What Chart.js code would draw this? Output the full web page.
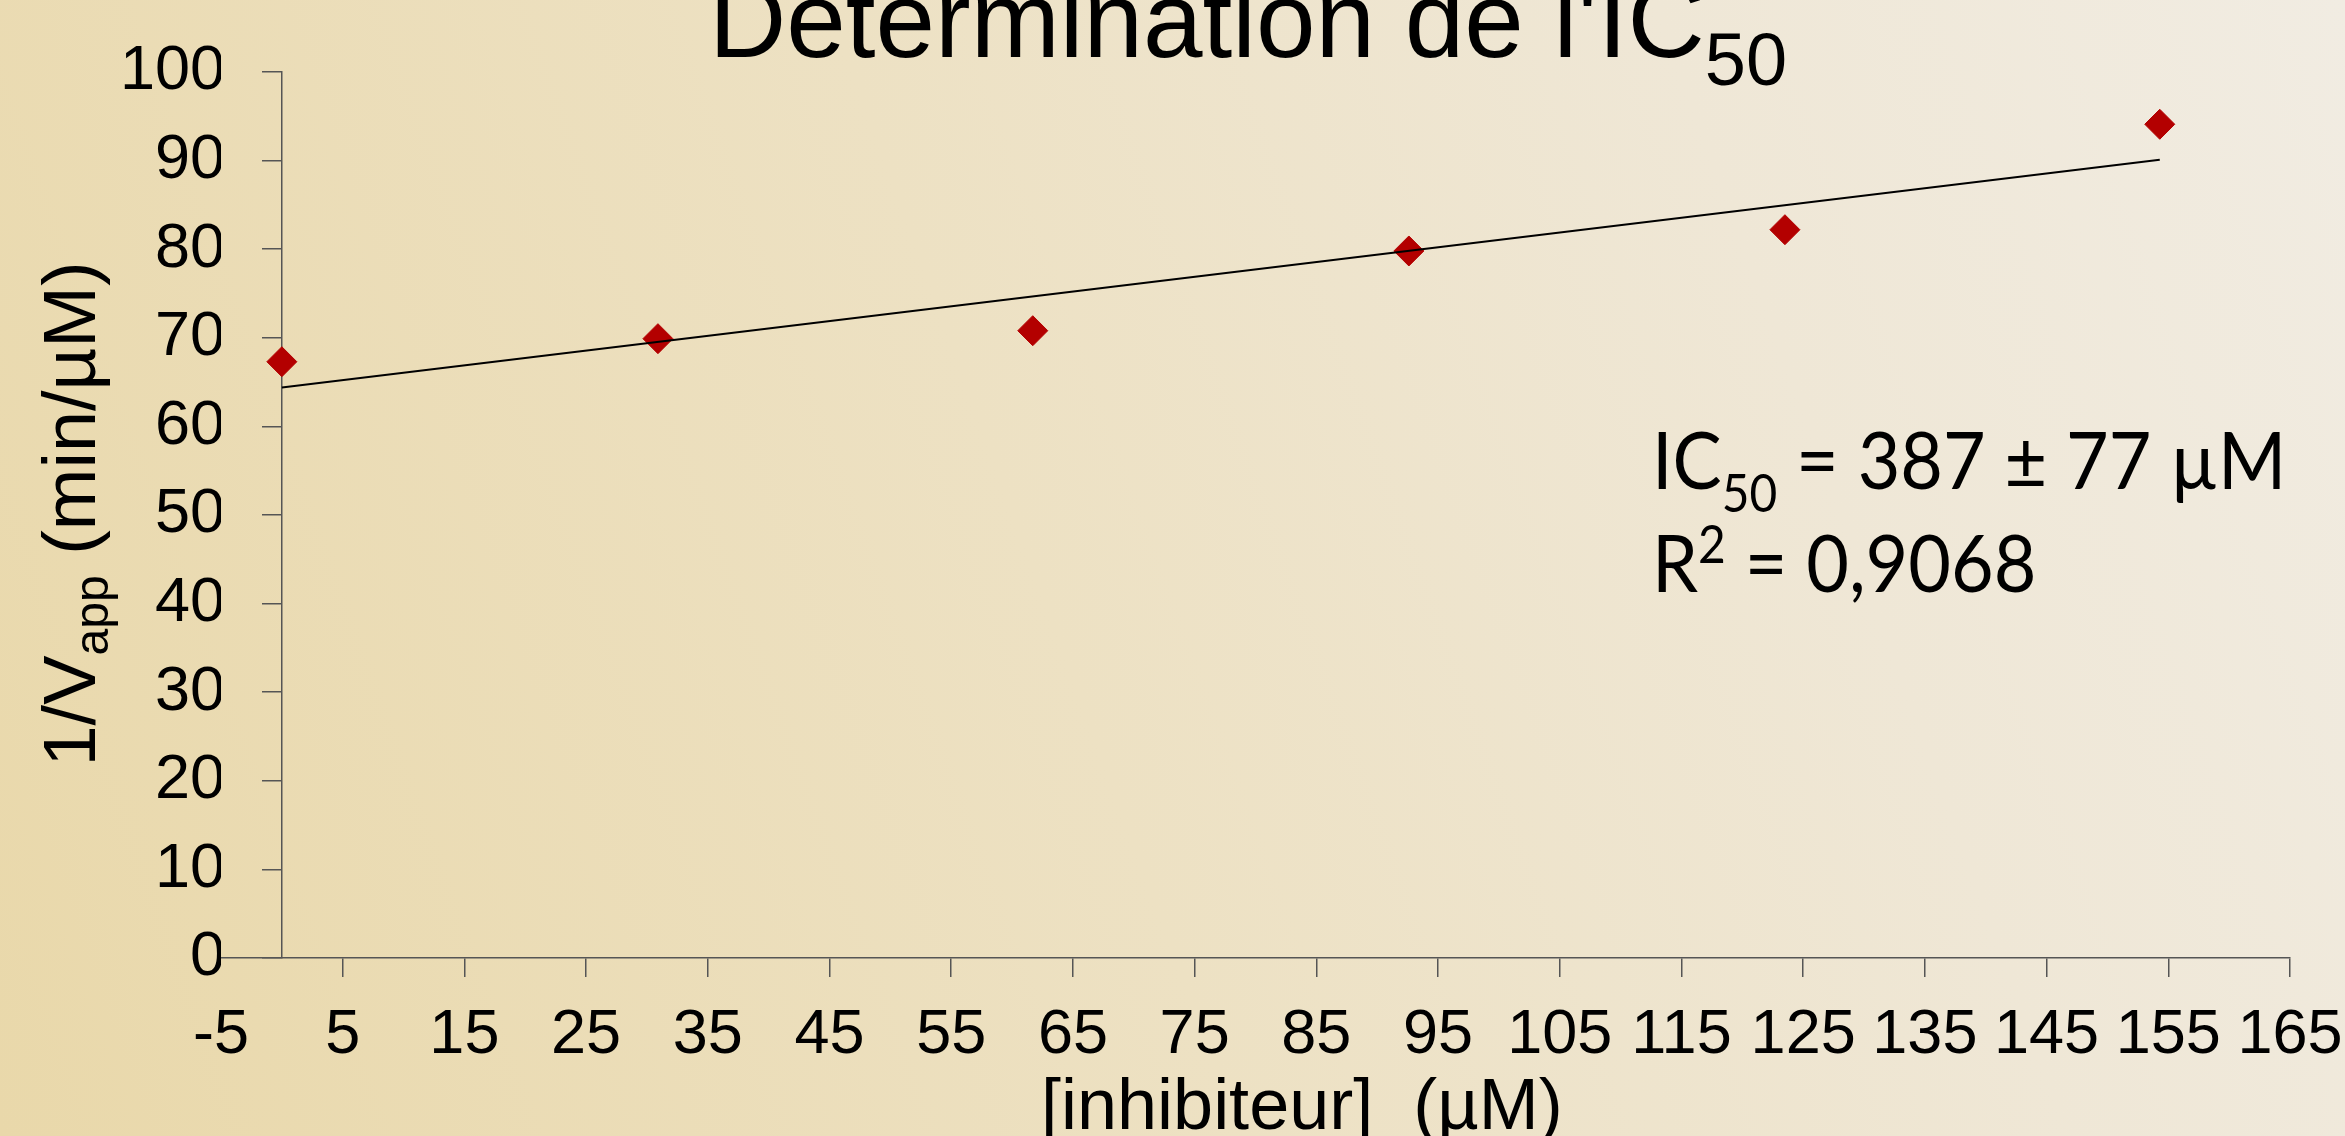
<!DOCTYPE html>
<html>
<head>
<meta charset="utf-8">
<script src="https://cdn.jsdelivr.net/npm/chart.js@4.4.1/dist/chart.umd.min.js"></script>
<style>
  html, body {
    margin: 0;
    padding: 0;
    overflow: hidden;
  }
  body {
    width: 2345px;
    height: 1136px;
    background: linear-gradient(70deg, #e9d8aa 0%, #ede1c3 45%, #efe7d6 75%, #f1ece2 100%);
  }
  #wrap {
    position: relative;
    width: 2345px;
    height: 1136px;
  }
</style>
</head>
<body>
<div id="wrap"><canvas id="IC50Chart"></canvas></div>
<script>
// inhibitor concentration (µM) and 1/Vapp (min/µM)
const inhibiteur = [0, 30.9, 61.7, 92.6, 123.5, 154.3];
const invVapp = [67.3, 69.9, 70.8, 79.8, 82.2, 94.1];

// linear trend line end points
const trendX = [0, 154.3];
const trendY = [64.4, 90.1];

// axis ranges / ticks
const xRange = [-5, 165];
const xStep = 10;
const yRange = [0, 100];
const yStep = 10;

const titleText = ["Détermination de l'IC", "50"];
const yTitle = ["1/V", "app", " (min/µM)"];
const xTitle = "[inhibiteur]  (µM)";
const noteLines = [["IC", "50", " = 387 ± 77 µM"], ["R", "2", " = 0,9068"]];

const FONT = "'Liberation Sans', Arial, sans-serif";
const NOTE_FONT = "Lato, 'Open Sans', sans-serif";

function drawRuns(ctx, runs, x, y, family) {
    let cx = x;
    runs.forEach(([t, size, shift]) => {
        ctx.font = size + "px " + family;
        ctx.fillText(t, cx, y + shift);
        cx += ctx.measureText(t).width;
    });
    return cx - x;
}

function runsWidth(ctx, runs, family) {
    let w = 0;
    runs.forEach(([t, size]) => {
        ctx.font = size + "px " + family;
        w += ctx.measureText(t).width;
    });
    return w;
}

const textPlugin = {
    id: "texts",
    afterDraw(chart) {
        const ctx = chart.ctx;
        ctx.save();
        ctx.fillStyle = "#000";
        ctx.textAlign = "left";
        ctx.textBaseline = "alphabetic";

        // title, partly cut by the top edge
        drawRuns(ctx, [[titleText[0], 107, 0], [titleText[1], 74, 28]], 709, 57, FONT);

        // x axis title
        ctx.font = "72px " + FONT;
        ctx.fillText(xTitle, 1041, 1129);

        // y axis title, rotated
        const yRuns = [[yTitle[0], 74, 0], [yTitle[1], 48, 13], [yTitle[2], 74, 0]];
        const yw = runsWidth(ctx, yRuns, FONT);
        ctx.save();
        ctx.translate(95, 514);
        ctx.rotate(-Math.PI / 2);
        drawRuns(ctx, yRuns, -yw / 2, 0, FONT);
        ctx.restore();

        // IC50 / R2 note (narrower face, like the original)
        ctx.save();
        ctx.translate(1652, 0);
        ctx.scale(0.92, 1);
        drawRuns(ctx, [[noteLines[0][0], 80, 0], [noteLines[0][1], 52, 23], [noteLines[0][2], 80, 0]], 0, 489, NOTE_FONT);
        drawRuns(ctx, [[noteLines[1][0], 80, 0], [noteLines[1][1], 52, -29], [noteLines[1][2], 80, 0]], 0, 592, NOTE_FONT);
        ctx.restore();

        ctx.restore();
    }
};

function IC50Chart() {
    const ctx = document.getElementById("IC50Chart");

    new Chart(ctx, {
        type: "scatter",
        data: {
            datasets: [
                {
                    label: "Tendance",
                    data: trendX.map((x, i) => ({ x: x, y: trendY[i] })),
                    showLine: true,
                    borderColor: "#000",
                    borderWidth: 2,
                    pointRadius: 0,
                    order: 0,
                },
                {
                    label: "1/Vapp",
                    data: inhibiteur.map((x, i) => ({ x: x, y: invVapp[i] })),
                    pointStyle: "rectRot",
                    pointRadius: 15,
                    backgroundColor: "#b30000",
                    borderColor: "#b30000",
                    borderWidth: 1,
                    order: 1,
                },
            ],
        },
        options: {
            responsive: true,
            maintainAspectRatio: false,
            animation: false,
            layout: {
                padding: { top: 72, right: 55, bottom: 0, left: 0 },
            },
            scales: {
                x: {
                    type: "linear",
                    position: "bottom",
                    min: xRange[0],
                    max: xRange[1],
                    ticks: {
                        stepSize: xStep,
                        autoSkip: false,
                        maxRotation: 0,
                        padding: 21,
                        color: "#000",
                        font: { family: FONT, size: 63 },
                    },
                    grid: {
                        drawOnChartArea: false,
                        tickLength: 19,
                        lineWidth: 1.5,
                        color: (c) => (c.tick && c.tick.value === xRange[0] ? "rgba(0,0,0,0)" : "#555"),
                    },
                    border: { display: true, color: "#555", width: 1.5 },
                    afterFit: (s) => {
                        s.height = 178;
                        s.paddingLeft = 0;
                        s.paddingRight = 0;
                    },
                },
                y: {
                    type: "linear",
                    position: "left",
                    min: yRange[0],
                    max: yRange[1],
                    ticks: {
                        stepSize: yStep,
                        padding: -4,
                        color: "#000",
                        font: { family: FONT, size: 63 },
                    },
                    grid: { display: false, drawTicks: false },
                    border: { display: false },
                    afterFit: (s) => { s.width = 221; },
                },
                // y axis line crossing at x = 0
                y0: {
                    type: "linear",
                    axis: "y",
                    position: { x: 0 },
                    min: yRange[0],
                    max: yRange[1],
                    ticks: { stepSize: yStep, display: false },
                    grid: {
                        drawOnChartArea: false,
                        tickLength: 19,
                        lineWidth: 1.5,
                        color: "#555",
                    },
                    border: { display: true, color: "#555", width: 1.5 },
                },
            },
            plugins: {
                legend: { display: false },
                tooltip: { enabled: false },
                title: { display: false },
            },
        },
        plugins: [textPlugin],
    });
}

IC50Chart()
</script>
</body>
</html>
